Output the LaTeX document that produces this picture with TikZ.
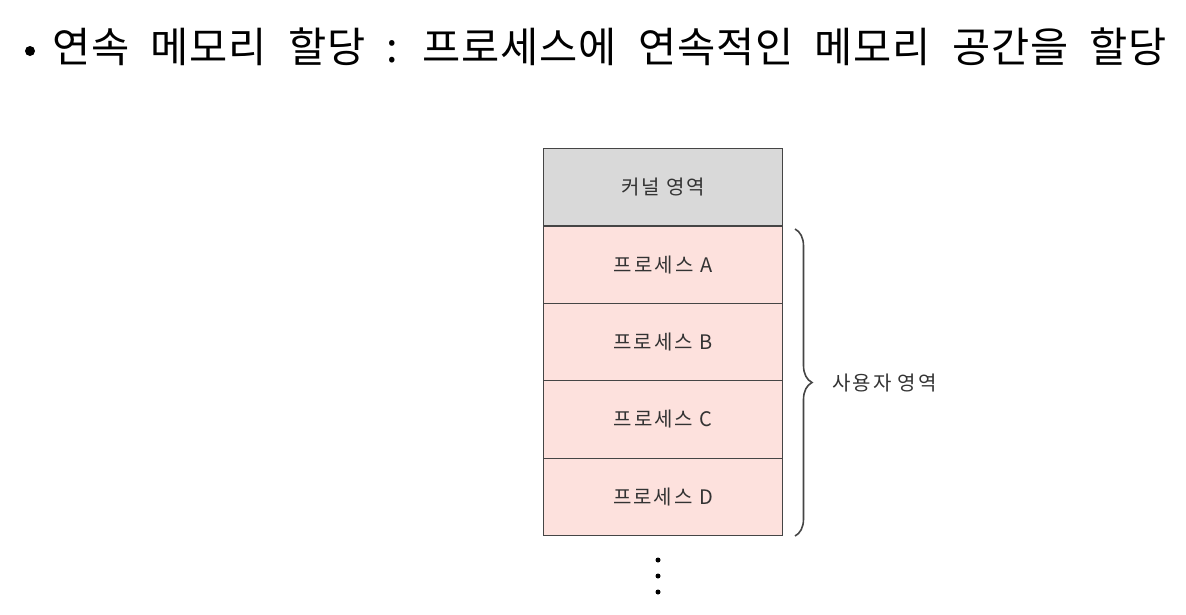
\documentclass[tikz,border=0pt]{standalone}
\usepackage{fontspec}
\newfontfamily\kr{Noto Sans CJK KR}
\newfontfamily\krt[WordSpace=2.1,LetterSpace=2]{Noto Sans CJK KR}
\newfontfamily\krs[LetterSpace=10]{Noto Sans CJK KR}
\usetikzlibrary{decorations.pathreplacing}
\definecolor{kgray}{HTML}{D9D9D9}
\definecolor{ppink}{HTML}{FDE1DD}
\definecolor{lin}{HTML}{454545}
\definecolor{txt}{HTML}{333333}
\begin{document}
\begin{tikzpicture}[x=1pt,y=-1pt,
  cell/.style={draw=lin,line width=1.2pt,minimum width=239pt,minimum height=77.4pt,inner sep=0pt,anchor=north west,font=\krs\fontsize{20}{22}\selectfont,text=txt},
  dotst/.style={circle,fill=black,inner sep=0pt,minimum size=5pt}]
\useasboundingbox (0,0) rectangle (1186,614);
\node[circle,fill=black,inner sep=0pt,minimum size=10pt] (bul) at (30,51) {};
\node[anchor=west,font=\krt\fontsize{41.5}{44}\selectfont,inner sep=0pt] (title) at (52,47) {연속 메모리 할당 : 프로세스에 연속적인 메모리 공간을 할당};
\node[cell,fill=kgray] (k) at (543,148) {커널 영역};
\node[cell,fill=ppink] (a) at (543,225.4) {프로세스 A};
\node[cell,fill=ppink] (b) at (543,302.8) {프로세스 B};
\node[cell,fill=ppink] (c) at (543,380.2) {프로세스 C};
\node[cell,fill=ppink] (d) at (543,457.6) {프로세스 D};
\coordinate (bt) at (795,229);
\coordinate (bb) at (795,536);
\draw[lin,line width=1.6pt,decorate,decoration={brace,amplitude=17pt,aspect=0.5}] (bt) -- (bb);
\node[anchor=west,font=\krs\fontsize{20}{22}\selectfont,text=txt,inner sep=0pt] (u) at (832,383) {사용자 영역};
\node[dotst] (d1) at (658,560) {};
\node[dotst] (d2) at (658,576) {};
\node[dotst] (d3) at (658,592) {};
\end{tikzpicture}
\end{document}
